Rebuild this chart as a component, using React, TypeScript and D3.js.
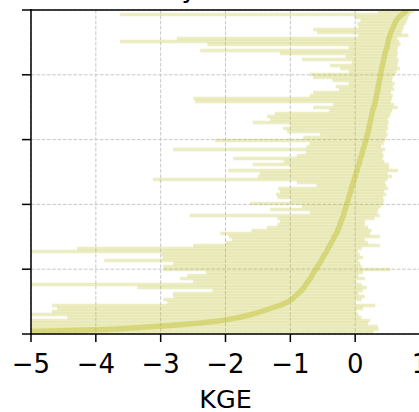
import React from 'react';
import * as d3 from 'd3';

const xTicks = [-5, -4, -3, -2, -1, 0, 1];
const yTicks = [0, 0.2, 0.4, 0.6, 0.8, 1];
const xLabel = 'KGE';
const titleText = 'Daily';

const medianKGE = [
  -5.6, -3.85, -3.09, -2.48, -2.05, -1.8, -1.6, -1.45, -1.31, -1.17,
  -1.06, -0.98, -0.93, -0.88, -0.83, -0.79, -0.76, -0.73, -0.69, -0.665,
  -0.64, -0.61, -0.58, -0.55, -0.52, -0.5, -0.47, -0.44, -0.42, -0.39,
  -0.367, -0.34, -0.32, -0.29, -0.27, -0.25, -0.233, -0.22, -0.2, -0.18,
  -0.17, -0.155, -0.14, -0.13, -0.11, -0.1, -0.085, -0.07, -0.06, -0.045,
  -0.03, -0.015, 0.0, 0.01, 0.03, 0.04, 0.06, 0.07, 0.08, 0.1,
  0.11, 0.12, 0.14, 0.15, 0.165, 0.175, 0.19, 0.2, 0.21, 0.22,
  0.23, 0.24, 0.25, 0.26, 0.27, 0.285, 0.3, 0.31, 0.32, 0.33,
  0.34, 0.35, 0.355, 0.365, 0.375, 0.385, 0.39, 0.4, 0.41, 0.42,
  0.43, 0.44, 0.45, 0.46, 0.475, 0.49, 0.5, 0.51, 0.52, 0.535,
  0.55, 0.57, 0.59, 0.61, 0.635, 0.67, 0.72, 0.78,
];

const minKGE = [
  -8.0, -6.5, -6.0, -5.8, -5.5, -4.44, -5.2, -4.68, -4.6, -4.68,
  -2.9, -2.96, -2.81, -2.81, -2.2, -3.36, -5.3, -2.5, -2.7, -2.59,
  -2.3, -2.96, -2.96, -2.81, -3.87, -2.97, -2.99, -5.4, -4.29, -2.5,
  -2.0, -1.9, -1.95, -2.08, -1.6, -1.36, -1.2, -1.16, -1.2, -2.55,
  -0.7, -1.31, -0.82, -1.62, -1.0, -1.2, -1.22, -1.16, -1.19, -0.6,
  -0.9, -3.12, -1.5, -1.47, -1.96, -1.0, -1.58, -1.1, -1.88, -0.9,
  -0.76, -2.81, -0.75, -0.7, -2.16, -0.8, -0.54, -1.05, -1.11, -1.0,
  -1.58, -1.31, -1.36, -1.24, -0.4, -0.65, -0.34, -2.47, -2.5, -0.7,
  -0.65, -0.25, -0.3, -0.1, -0.35, -0.65, -0.7, -0.1, -0.23, -0.39,
  -0.05, -0.82, -0.15, -1.16, -2.39, -0.1, -2.28, -3.63, -2.75, 0.05,
  -0.59, -0.65, 0.05, 0.03, 0.08, 0.0, -3.63, 0.35,
];

const maxKGE = [
  0.28, 0.36, 0.35, 0.2, 0.23, 0.1, 0.05, 0.02, 0.12, 0.31,
  0.0, 0.1, 0.15, 0.05, 0.12, 0.18, 0.1, 0.02, 0.15, 0.05,
  0.12, 0.54, 0.1, 0.08, 0.05, 0.12, 0.07, 0.04, 0.1, 0.38,
  0.2, 0.15, 0.38, 0.23, 0.25, 0.2, 0.15, 0.15, 0.3, 0.38,
  0.34, 0.36, 0.4, 0.43, 0.45, 0.43, 0.48, 0.45, 0.51, 0.48,
  0.46, 0.5, 0.57, 0.5, 0.66, 0.52, 0.52, 0.45, 0.42, 0.44,
  0.42, 0.46, 0.4, 0.44, 0.46, 0.48, 0.5, 0.48, 0.51, 0.5,
  0.52, 0.5, 0.53, 0.55, 0.57, 0.66, 0.6, 0.55, 0.57, 0.58,
  0.55, 0.6, 0.58, 0.61, 0.57, 0.58, 0.62, 0.64, 0.69, 0.65,
  0.66, 0.67, 0.64, 0.66, 0.65, 0.66, 0.7, 0.68, 0.65, 0.82,
  0.72, 0.74, 0.75, 0.78, 0.8, 0.82, 0.85, 0.9,
];

const COLOR = '#bcbd22';
const FONT = 'DejaVu Sans';

export default function App() {
  const W = 419;
  const H = 412;
  const left = 31, right = 420, top = 10, bottom = 334;
  const x = d3.scaleLinear().domain([-5, 1]).range([left, right]);
  const y = d3.scaleLinear().domain([0, 1]).range([bottom, top]);
  const n = medianKGE.length;
  const frac = (i: number) => (i + 0.5) / n;
  const medLine = d3
    .line<number>()
    .x((d) => x(d))
    .y((_d, i) => y(frac(i)))
    .curve(d3.curveMonotoneY);
  const rowH = (bottom - top) / n;

  return (
    <svg
      width={W}
      height={H}
      style={{ position: 'absolute', left: 0, top: 0, display: 'block', background: '#fff' }}
      fontFamily={FONT}
    >
      <defs>
        <clipPath id="plotClip">
          <rect x={left} y={top} width={right - left} height={bottom - top} />
        </clipPath>
      </defs>
      <rect x={0} y={0} width={W} height={H} fill="#fff" />
      {/* title (mostly cut off above the picture) */}
      <text x={197} y={-3.3} fontSize={26} textAnchor="end" fill="#000">
        {titleText}
      </text>
      {/* grid */}
      <g stroke="#c8c8c8" strokeWidth={1} strokeDasharray="3.7,1.6">
        {xTicks.map((t) => (
          <line key={'gx' + t} x1={x(t)} x2={x(t)} y1={top} y2={bottom} />
        ))}
        {yTicks.map((t) => (
          <line key={'gy' + t} x1={left} x2={right} y1={y(t)} y2={y(t)} />
        ))}
      </g>
      {/* range bars */}
      <g clipPath="url(#plotClip)">
        {medianKGE.map((_m, i) => (
          <line
            key={'b' + i}
            x1={x(minKGE[i])}
            x2={x(maxKGE[i])}
            y1={y(frac(i))}
            y2={y(frac(i))}
            stroke={COLOR}
            strokeOpacity={0.27}
            strokeWidth={rowH + 0.5}
          />
        ))}
        <path
          d={medLine(medianKGE) || ''}
          fill="none"
          stroke={COLOR}
          strokeOpacity={0.42}
          strokeWidth={5.5}
          strokeLinecap="round"
          strokeLinejoin="round"
        />
      </g>
      {/* spines */}
      <g stroke="#000" strokeWidth={1.5} fill="none">
        <line x1={left} x2={left} y1={top - 0.75} y2={bottom + 0.75} />
        <line x1={left - 0.75} x2={W + 5} y1={bottom} y2={bottom} />
        <line x1={left - 0.75} x2={W + 5} y1={top} y2={top} />
      </g>
      {/* ticks */}
      <g stroke="#000" strokeWidth={1.5}>
        {xTicks.map((t) => (
          <line key={'tx' + t} x1={x(t)} x2={x(t)} y1={bottom} y2={bottom + 8} />
        ))}
        {yTicks.map((t) => (
          <line key={'ty' + t} x1={left - 9} x2={left} y1={y(t)} y2={y(t)} />
        ))}
      </g>
      {xTicks.map((t) => (
        <text
          key={'lx' + t}
          x={x(t)}
          y={373}
          fontSize={26}
          textAnchor="middle"
          fill="#000"
        >
          {t < 0 ? '\u2212' + Math.abs(t) : String(t)}
        </text>
      ))}
      <text x={(left + right) / 2} y={408} fontSize={25.5} textAnchor="middle" fill="#000">
        {xLabel}
      </text>
    </svg>
  );
}
